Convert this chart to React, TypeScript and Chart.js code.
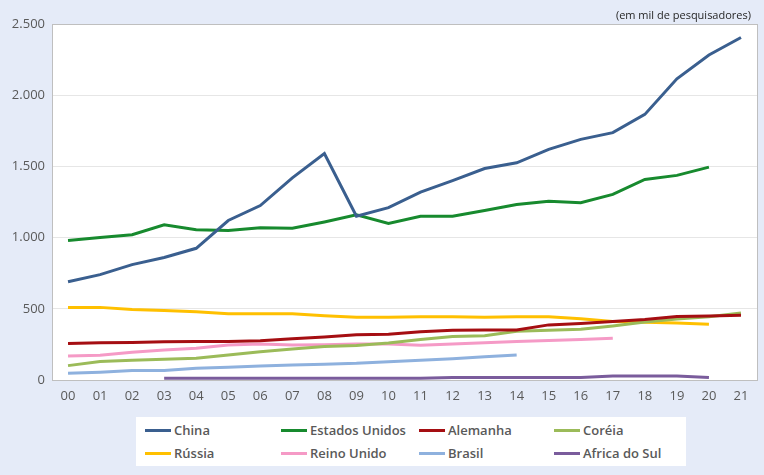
import React, { useEffect, useRef } from "react";
import { Chart, registerables } from "chart.js";

Chart.register(...registerables);

const categories = ["00","01","02","03","04","05","06","07","08","09","10","11","12","13","14","15","16","17","18","19","20","21"];

const china = [690, 740, 810, 860, 925, 1120, 1225, 1420, 1590, 1150, 1210, 1320, 1400, 1485, 1525, 1620, 1690, 1737, 1865, 2115, 2282, 2405];
const estadosUnidos = [980, 1000, 1020, 1090, 1055, 1050, 1070, 1065, 1110, 1160, 1100, 1150, 1150, 1190, 1232, 1255, 1245, 1303, 1408, 1437, 1495, null];
const alemanha = [257, 262, 263, 268, 270, 270, 275, 290, 302, 317, 322, 338, 350, 352, 352, 387, 397, 411, 425, 446, 450, 454];
const coreia = [101, 130, 138, 146, 153, 176, 199, 218, 235, 242, 260, 285, 305, 310, 342, 350, 357, 380, 408, 428, 445, 470];
const russia = [510, 510, 495, 488, 480, 465, 465, 465, 452, 440, 440, 445, 445, 440, 445, 445, 430, 410, 405, 400, 392, null];
const reinoUnido = [168, 174, 195, 211, 223, 246, 253, 246, 248, 253, 253, 244, 253, 262, 270, 278, 285, 294, null, null, null, null];
const brasil = [47, 55, 66, 66, 82, 90, 99, 105, 110, 117, 129, 138, 150, 163, 176, null, null, null, null, null, null, null];
const africaDoSul = [null, null, null, 12, 12, 12, 12, 12, 12, 12, 12, 13, 18, 18, 18, 18, 18, 28, 28, 28, 18, null];

const yTicks = [0, 500, 1000, 1500, 2000, 2500];

const seriesNames = ["China", "Estados Unidos", "Alemanha", "Coréia", "Rússia", "Reino Unido", "Brasil", "Africa do Sul"];
const seriesColors = ["#3A5F8F", "#178A2E", "#A50E12", "#9BBB59", "#FFC000", "#F59AC6", "#8EB1DE", "#7A5C9C"];
const seriesData = [china, estadosUnidos, alemanha, coreia, russia, reinoUnido, brasil, africaDoSul];

const unitLabel = "(em mil de pesquisadores)";

const fmt = (v: number) => String(v).replace(/\B(?=(\d{3})+(?!\d))/g, ".");

const borderPlugin = {
  id: "plotBorder",
  afterDraw(chart: any) {
    const { ctx, chartArea } = chart;
    ctx.save();
    ctx.strokeStyle = "#BFBFBF";
    ctx.lineWidth = 1;
    ctx.strokeRect(Math.round(chartArea.left) + 0.5, Math.round(chartArea.top) + 0.5, Math.round(chartArea.right - chartArea.left), Math.round(chartArea.bottom - chartArea.top));
    ctx.restore();
  },
  beforeDraw(chart: any) {
    const { ctx, chartArea } = chart;
    ctx.save();
    ctx.fillStyle = "#FFFFFF";
    ctx.fillRect(chartArea.left, chartArea.top, chartArea.right - chartArea.left, chartArea.bottom - chartArea.top);
    ctx.restore();
  },
};

export default function App() {
  const ref = useRef<HTMLCanvasElement>(null);

  useEffect(() => {
    if (!ref.current) return;
    const chart = new Chart(ref.current, {
      type: "line",
      data: {
        labels: categories,
        datasets: seriesData.map((d, i) => ({
          label: seriesNames[i],
          data: d as any,
          borderColor: seriesColors[i],
          backgroundColor: seriesColors[i],
          borderWidth: 3,
          pointRadius: 0,
          tension: 0,
          spanGaps: false,
        })),
      },
      options: {
        animation: false,
        responsive: false,
        maintainAspectRatio: false,
        layout: { padding: { left: 0, right: 7, top: 24, bottom: 65 } },
        plugins: {
          legend: { display: false },
          tooltip: { enabled: false },
        },
        scales: {
          x: {
            offset: true,
            grid: { display: false, drawTicks: false },
            border: { display: true, color: "#BFBFBF" },
            ticks: {
              color: "#595959",
              font: { family: "Open Sans", size: 13 },
              padding: 8,
              maxRotation: 0,
              autoSkip: false,
            },
            afterFit(scale: any) { scale.height = 30; },
          },
          y: {
            min: 0,
            max: 2500,
            afterBuildTicks(scale: any) { scale.ticks = yTicks.map((v) => ({ value: v })); },
            grid: { color: "#E6E6E6", drawTicks: false },
            border: { display: true, color: "#BFBFBF" },
            ticks: {
              color: "#595959",
              font: { family: "Open Sans", size: 13 },
              padding: 7,
              callback: (v: any) => fmt(Number(v)),
            },
            afterFit(scale: any) { scale.width = 52; },
          },
        },
      },
      plugins: [borderPlugin],
    });
    return () => chart.destroy();
  }, []);

  return (
    <div style={{ position: "absolute", left: 0, top: 0, width: 764, height: 475, background: "#E5EBF8", overflow: "hidden" }}>
      <canvas ref={ref} width={764} height={475} style={{ position: "absolute", left: 0, top: 0 }} />
      <div style={{ position: "absolute", right: 13, top: 7, fontFamily: "Open Sans", fontSize: 11, color: "#262626" }}>{unitLabel}</div>
      <div style={{ position: "absolute", left: 136, top: 417, width: 550, height: 49, background: "#FFFFFF" }}>
        {seriesNames.map((name, i) => {
          const col = i % 4;
          const row = Math.floor(i / 4);
          const colX = [9, 145, 283, 418][col];
          return (
            <div key={name} style={{ position: "absolute", left: colX, top: 4 + row * 23, height: 18, display: "flex", alignItems: "center", fontFamily: "Open Sans", fontWeight: 600, fontSize: 13, color: "#595959", whiteSpace: "nowrap" }}>
              <span style={{ display: "inline-block", width: 26, height: 3, background: seriesColors[i], marginRight: 3 }} />
              {name}
            </div>
          );
        })}
      </div>
    </div>
  );
}
